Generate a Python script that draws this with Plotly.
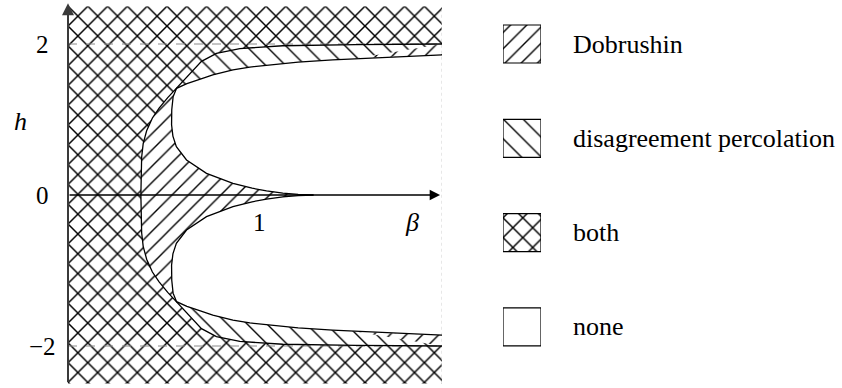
import plotly.graph_objects as go

# ---- data (upper half; the diagram is symmetric in h) ----
# outer boundary curve A (starts at h=0, rises and approaches h=2)
a_beta = [0.380, 0.381, 0.384, 0.392, 0.410, 0.440, 0.475, 0.520, 0.566, 0.627,
          0.696, 0.774, 0.896, 1.120, 1.500, 1.950]
a_h = [0.00, 0.25, 0.50, 0.68, 0.85, 1.02, 1.15, 1.29, 1.413, 1.59,
       1.77, 1.875, 1.94, 1.977, 1.993, 2.00]
# inner lobe boundary curve B (from right end at top, round the nose, to the tail on h=0)
b_beta = [1.950, 1.700, 1.380, 1.200, 1.035, 0.948, 0.860, 0.755, 0.690, 0.620, 0.566,
          0.548, 0.541, 0.540, 0.547, 0.565, 0.618, 0.722, 0.860, 0.960, 1.035, 1.120, 1.200, 1.280]
b_h = [1.855, 1.830, 1.790, 1.760, 1.720, 1.695, 1.656, 1.590, 1.535, 1.475, 1.413,
       1.300, 1.130, 0.930, 0.780, 0.640, 0.464, 0.287, 0.155, 0.090, 0.055, 0.025, 0.008, 0.000]
cross_a = 8   # index of the crossing point in A
cross_b = 10  # index of the crossing point in B

beta_range = [0.0, 1.95]
h_range = [-2.5, 2.5]
y_ticks = [2, 0, -2]
y_tick_text = ["2", "0", "\u22122"]
x_tick = 1
legend_labels = ["Dobrushin", "disagreement percolation", "both", "none"]
legend_patterns = ["/", "\\", "x", ""]

FONT = "Liberation Serif, Times New Roman, Times, serif"
W, H = 842, 388

fig = go.Figure()

def pat(shape, size, solidity):
    return dict(shape=shape, size=size, solidity=solidity, fgcolor="black",
                bgcolor="white", fillmode="replace")

PAT = {"x": pat("x", 14, 0.20), "/": pat("/", 11.5, 0.12), "\\": pat("\\", 14, 0.10)}

# crosshatch everywhere ("both")
fig.add_trace(go.Scatter(
    x=[beta_range[0], beta_range[1], beta_range[1], beta_range[0]],
    y=[h_range[0], h_range[0], h_range[1], h_range[1]],
    fill="toself", fillcolor="white", fillpattern=PAT["x"], mode="none",
    hoverinfo="skip"))

# inside A -> Dobrushin only ("/")
xs = a_beta + a_beta[::-1]
ys = a_h + [-v for v in a_h[::-1]]
fig.add_trace(go.Scatter(x=xs, y=ys, fill="toself", fillcolor="white",
                         fillpattern=PAT["/"], mode="none", hoverinfo="skip"))

# between A and B beyond the crossing -> disagreement percolation only ("\")
up_x = a_beta[cross_a:] + b_beta[:cross_b + 1][::-1]
up_y = a_h[cross_a:] + b_h[:cross_b + 1][::-1]
xs = up_x + [None] + up_x
ys = up_y + [None] + [-v for v in up_y]
fig.add_trace(go.Scatter(x=xs, y=ys, fill="toself", fillcolor="white",
                         fillpattern=PAT["\\"], mode="none", hoverinfo="skip"))

# lobes inside B -> none
lobe_x = b_beta + [beta_range[1]]
lobe_y = b_h + [0.0]
xs = lobe_x + [None] + lobe_x
ys = lobe_y + [None] + [-v for v in lobe_y]
fig.add_trace(go.Scatter(x=xs, y=ys, fill="toself", fillcolor="white",
                         mode="none", hoverinfo="skip"))

# dashed guide lines at h = +-2 and faint right edge
fig.add_trace(go.Scatter(x=[beta_range[0], beta_range[1], None, beta_range[0], beta_range[1]],
                         y=[2, 2, None, -2, -2], mode="lines",
                         line=dict(color="#8a8a8a", width=1, dash="dash"), hoverinfo="skip"))
fig.add_trace(go.Scatter(x=[beta_range[1], beta_range[1]], y=h_range, mode="lines",
                         line=dict(color="#cfcfcf", width=1, dash="dot"), hoverinfo="skip"))

# boundary curves
xs = a_beta + [None] + a_beta + [None] + b_beta + [None] + b_beta
ys = a_h + [None] + [-v for v in a_h] + [None] + b_h + [None] + [-v for v in b_h]
fig.add_trace(go.Scatter(x=xs, y=ys, mode="lines", line=dict(color="black", width=1.3),
                         hoverinfo="skip"))

# ---- legend drawn on a second pair of axes ----
half = 0.2015
for i, (lab, p) in enumerate(zip(legend_labels, legend_patterns)):
    kw = dict(fillpattern=PAT[p]) if p else {}
    fig.add_trace(go.Scatter(x=[0, 1, 1, 0, 0], y=[i - half, i - half, i + half, i + half, i - half],
                             fill="toself", fillcolor="white", mode="lines",
                             line=dict(color="black", width=1.2),
                             xaxis="x2", yaxis="y2", hoverinfo="skip", **kw))

ann = []
for i, lab in enumerate(legend_labels):
    ann.append(dict(x=1, y=i, xref="x2", yref="y2", text=lab, showarrow=False,
                    xanchor="left", yanchor="middle", xshift=30,
                    font=dict(family=FONT, size=26, color="black")))

# axis labels
for v, t in zip(y_ticks, y_tick_text):
    ann.append(dict(x=0, y=v, xref="x", yref="y", text=t, showarrow=False,
                    xanchor="center", yanchor="middle", xshift=-26,
                    font=dict(family=FONT, size=25, color="black")))
ann.append(dict(x=0, y=0.967, xref="x", yref="y", text="<i>h</i>", showarrow=False,
                xanchor="center", yanchor="middle", xshift=-48,
                font=dict(family=FONT, size=26, color="black")))
ann.append(dict(x=x_tick, y=-0.37, xref="x", yref="y", text="1", showarrow=False,
                xanchor="center", yanchor="middle",
                font=dict(family=FONT, size=25, color="black")))
ann.append(dict(x=1.794, y=-0.37, xref="x", yref="y", text="<i>\u03b2</i>", showarrow=False,
                xanchor="center", yanchor="middle",
                font=dict(family=FONT, size=26, color="black")))

# axis arrows
ann.append(dict(x=0, y=2.54, ax=0, ay=h_range[0], xref="x", yref="y", axref="x", ayref="y",
                text="", showarrow=True, arrowhead=2, arrowsize=1.2, arrowwidth=2,
                arrowcolor="#3a3a3a", standoff=0, startstandoff=0))
ann.append(dict(x=1.94, y=0, ax=0, ay=0, xref="x", yref="y", axref="x", ayref="y",
                text="", showarrow=True, arrowhead=2, arrowsize=1.3, arrowwidth=1.6,
                arrowcolor="black", standoff=0, startstandoff=0))

y0p, y1p = 6.25, 383.75
leg_k = 94.3
r_top = -44 / leg_k
r_bot = r_top + H / leg_k

hidden = dict(showgrid=False, zeroline=False, showticklabels=False, showline=False,
              ticks="", fixedrange=True)
fig.update_layout(
    width=W, height=H,
    margin=dict(l=0, r=0, t=0, b=0),
    paper_bgcolor="white", plot_bgcolor="white",
    showlegend=False,
    xaxis=dict(range=beta_range, domain=[68 / W, 442 / W], **hidden),
    yaxis=dict(range=h_range, domain=[(H - y1p) / H, (H - y0p) / H], **hidden),
    xaxis2=dict(range=[0, 1], domain=[503 / W, 541 / W], anchor="y2", **hidden),
    yaxis2=dict(range=[r_bot, r_top], domain=[0, 1], anchor="x2", **hidden),
    annotations=ann,
)

fig.write_html("out.html", config={"staticPlot": True},
               post_script="document.body.style.margin='0';document.body.style.overflow='hidden';")
